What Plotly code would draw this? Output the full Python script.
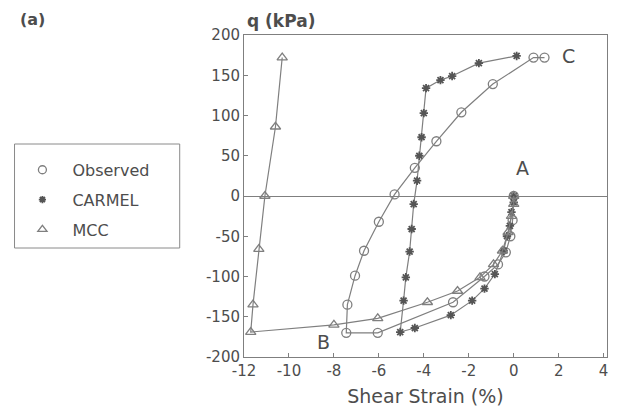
import plotly.graph_objects as go

# Observed: A -> B -> C
obs_x = [0, -0.05, -0.15, -0.35, -0.7, -1.3, -2.7, -6.05, -7.45,
         -7.4, -7.06, -6.66, -6.0, -5.3, -4.4, -3.44, -2.33, -0.93, 0.88, 1.37]
obs_y = [0, -30, -50, -70, -85, -100, -132, -170, -170,
         -135, -99, -68, -32, 2, 35, 68, 104, 139, 172, 172]

# CARMEL: A -> B -> C
car_x = [0, 0, -0.1, -0.17, -0.3, -0.45, -0.84, -1.3, -1.85, -2.8, -4.4, -5.05,
         -4.9, -4.8, -4.63, -4.54, -4.45, -4.3, -4.2, -4.1, -4.0, -3.9,
         -3.26, -2.74, -1.55, 0.13]
car_y = [0, -8, -20, -37, -50, -68, -97, -115, -130, -148, -164, -169,
         -130, -101, -69, -41, -10, 19, 50, 73, 103, 134,
         144, 149, 165, 174]

# MCC: A -> B -> C
mcc_x = [0, 0, -0.1, -0.25, -0.5, -0.9, -1.5, -2.5, -3.84, -6.05, -8.0, -11.7,
         -11.6, -11.34, -11.07, -10.6, -10.3]
mcc_y = [0, -10, -25, -45, -68, -85, -101, -118, -132, -152, -160, -169,
         -135, -66, 0, 86, 172]

series_names = ["Observed", "CARMEL", "MCC"]
x_ticks = [-12, -10, -8, -6, -4, -2, 0, 2, 4]
y_ticks = [-200, -150, -100, -50, 0, 50, 100, 150, 200]

LINE = "#7f7f7f"
TXT = "#4d4d4d"
FONT = "DejaVu Sans, sans-serif"

markers = [
    dict(symbol="circle-open", size=9, color=LINE, line=dict(width=1.3, color=LINE)),
    dict(symbol="asterisk-open", size=7, color="#555", line=dict(width=1.8, color="#555")),
    dict(symbol="triangle-up-open", size=9, color=LINE, line=dict(width=1.3, color=LINE)),
]

fig = go.Figure()
for xs, ys, mk in zip([obs_x, car_x, mcc_x], [obs_y, car_y, mcc_y], markers):
    fig.add_trace(go.Scatter(x=xs, y=ys, mode="lines+markers", showlegend=False,
                             line=dict(color=LINE, width=1.2), marker=mk))
# legend entries (marker only)
for name, mk in zip(series_names, markers):
    mk2 = dict(mk)
    mk2["size"] = mk["size"] - 1
    fig.add_trace(go.Scatter(x=[None], y=[None], mode="markers", name=name,
                             legendgroup=name, marker=mk2, showlegend=True))

fig.update_layout(
    width=623, height=417,
    margin=dict(l=240, r=16, t=35, b=60),
    paper_bgcolor="white", plot_bgcolor="white",
    font=dict(family=FONT, color=TXT, size=15),
    showlegend=True,
    legend=dict(x=-0.638, y=0.634, xanchor="left", yanchor="top",
                borderwidth=0, bgcolor="rgba(0,0,0,0)",
                itemwidth=50, tracegroupgap=6,
                font=dict(family=FONT, size=16, color=TXT)),
    xaxis=dict(range=[-12, 4.15], tickvals=x_ticks, ticktext=[str(v) for v in x_ticks],
               showgrid=False, zeroline=False, showline=True, linecolor=LINE, linewidth=1,
               mirror=True, ticks="inside", ticklen=4, tickcolor=LINE,
               tickfont=dict(size=15, color=TXT),
               title=dict(text="Shear Strain (%)", font=dict(size=19, color=TXT), standoff=10)),
    yaxis=dict(range=[-200, 200], tickvals=y_ticks, ticktext=[str(v) for v in y_ticks],
               showgrid=False, zeroline=True, zerolinecolor=LINE, zerolinewidth=1,
               showline=True, linecolor=LINE, linewidth=1, mirror=True,
               ticks="inside", ticklen=4, tickcolor=LINE,
               tickfont=dict(size=15, color=TXT)),
)

# legend box
fig.add_shape(type="rect", xref="paper", yref="paper",
              x0=(8 - 240) / 367, x1=(175 - 240) / 367,
              y0=(357 - 248) / 322, y1=(357 - 144) / 322,
              line=dict(color="#8a8a8a", width=1))

fig.add_annotation(x=0.4, y=35, text="A", showarrow=False, font=dict(size=19, color=TXT))
fig.add_annotation(x=-8.47, y=-181, text="B", showarrow=False, font=dict(size=19, color=TXT))
fig.add_annotation(x=2.43, y=174, text="C", showarrow=False, font=dict(size=19, color=TXT))
fig.add_annotation(xref="paper", yref="paper", x=(277 - 240) / 367, y=1.0,
                   xanchor="center", yanchor="bottom", yshift=2,
                   text="<b>q (kPa)</b>", showarrow=False, font=dict(size=17, color=TXT))
fig.add_annotation(xref="paper", yref="paper", x=(26 - 240) / 367, y=1.0,
                   xanchor="center", yanchor="bottom", yshift=4,
                   text="<b>(a)</b>", showarrow=False, font=dict(size=16, color=TXT))

fig.write_html("out.html", config={"displayModeBar": False},
               post_script="document.body.style.margin='0';")
